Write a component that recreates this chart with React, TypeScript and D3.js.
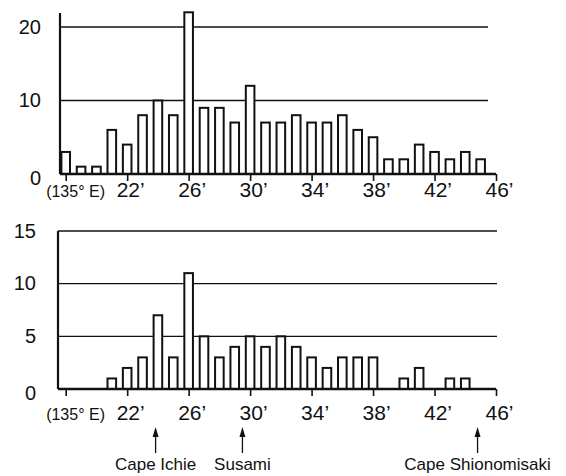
import { useRef, useEffect } from "react";
import * as d3 from "d3";

// longitude minutes east of 135°E, one bar per minute
const minutes = [
  18, 19, 20, 21, 22, 23, 24, 25, 26, 27, 28, 29, 30, 31, 32, 33, 34, 35, 36,
  37, 38, 39, 40, 41, 42, 43, 44, 45,
];
const topCounts = [
  3, 1, 1, 6, 4, 8, 10, 8, 22, 9, 9, 7, 12, 7, 7, 8, 7, 7, 8, 6, 5, 2, 2, 4, 3,
  2, 3, 2,
];
const bottomCounts = [
  0, 0, 0, 1, 2, 3, 7, 3, 11, 5, 3, 4, 5, 4, 5, 4, 3, 2, 3, 3, 3, 0, 1, 2, 0,
  1, 1, 0,
];
const xTicks = [18, 22, 26, 30, 34, 38, 42, 46];
const topYTicks = [0, 10, 20];
const bottomYTicks = [0, 5, 10, 15];
const placeNames = ["Cape Ichie", "Susami", "Cape Shionomisaki"];
const placeMinutes = [23.85, 29.5, 44.8];

const FONT = "'Liberation Sans', Arial, Helvetica, sans-serif";

const App = () => {
  const svgRef = useRef(null);

  useEffect(() => {
    const svg = d3.select(svgRef.current);
    svg.selectAll("*").remove();

    const x = d3.scaleLinear().domain([18, 46]).range([65.7, 496]);

    const drawPanel = (
      counts: number[],
      y: d3.ScaleLinear<number, number>,
      yTicks: number[],
      axisX: number,
      axisTop: number,
      gridEnd: number,
      labelRight: number,
      tickLabelGap: number,
    ) => {
      const g = svg.append("g");
      const y0 = y(0);

      // gridlines
      g.selectAll("line.grid")
        .data(yTicks.filter((t) => t > 0))
        .join("line")
        .attr("class", "grid")
        .attr("x1", axisX)
        .attr("x2", gridEnd)
        .attr("y1", (d) => y(d))
        .attr("y2", (d) => y(d))
        .attr("stroke", "#111")
        .attr("stroke-width", 1.3);

      // y tick labels
      g.selectAll("text.ylab")
        .data(yTicks)
        .join("text")
        .attr("class", "ylab")
        .attr("x", labelRight)
        .attr("y", (d) => y(d))
        .attr("dy", (d) => (d === 0 ? "0.55em" : "0.33em"))
        .attr("text-anchor", "end")
        .attr("font-family", FONT)
        .attr("font-size", 20)
        .attr("fill", "#111")
        .text((d) => d);

      // bars
      const rows = minutes
        .map((m, i) => ({ m, v: counts[i] }))
        .filter((d) => d.v > 0);
      g.selectAll("rect")
        .data(rows)
        .join("rect")
        .attr("x", (d) => x(d.m) - 4.3)
        .attr("y", (d) => y(d.v))
        .attr("width", 8.6)
        .attr("height", (d) => y0 - y(d.v))
        .attr("fill", "#fff")
        .attr("stroke", "#111")
        .attr("stroke-width", 2);

      // x axis ticks + labels
      const xAxis = g
        .append("g")
        .attr("transform", `translate(0,${y0})`)
        .call(
          d3
            .axisBottom(x)
            .tickValues(xTicks)
            .tickSize(7)
            .tickSizeOuter(0)
            .tickFormat((d) => (d === 18 ? "" : `${d}’`)),
        );
      xAxis.select(".domain").remove();
      xAxis.selectAll("line").attr("stroke", "#111").attr("stroke-width", 1.6);
      xAxis
        .selectAll("text")
        .attr("font-family", FONT)
        .attr("font-size", 21)
        .attr("fill", "#111")
        .attr("y", tickLabelGap)
        .attr("dy", "0")
        .attr("dx", 3);

      g.append("text")
        .attr("x", 105)
        .attr("y", y0 + tickLabelGap)
        .attr("text-anchor", "end")
        .attr("font-family", FONT)
        .attr("font-size", 16)
        .attr("fill", "#111")
        .text("(135° E)");

      // axis lines
      g.append("line")
        .attr("x1", axisX)
        .attr("x2", x(46))
        .attr("y1", y0)
        .attr("y2", y0)
        .attr("stroke", "#111")
        .attr("stroke-width", 2.6);
      g.append("line")
        .attr("x1", axisX)
        .attr("x2", axisX)
        .attr("y1", y0)
        .attr("y2", axisTop)
        .attr("stroke", "#111")
        .attr("stroke-width", 2.2);
    };

    const yTop = d3.scaleLinear().domain([0, 20]).range([174, 27]);
    drawPanel(topCounts, yTop, topYTicks, 60, 13, 488, 41, 23);

    const yBottom = d3.scaleLinear().domain([0, 15]).range([389, 231]);
    drawPanel(bottomCounts, yBottom, bottomYTicks, 58, 231, 497, 36, 31);

    // place annotations
    const notes = svg
      .append("g")
      .selectAll("g")
      .data(placeNames.map((name, i) => ({ name, m: placeMinutes[i] })))
      .join("g")
      .attr("transform", (d) => `translate(${x(d.m)},0)`);

    notes
      .append("line")
      .attr("y1", 453)
      .attr("y2", 434)
      .attr("stroke", "#111")
      .attr("stroke-width", 1.3);
    notes
      .append("path")
      .attr("d", "M0,427 L-3,437 L3,437 Z")
      .attr("fill", "#111");
    notes
      .append("text")
      .attr("y", 470)
      .attr("text-anchor", "middle")
      .attr("font-family", FONT)
      .attr("font-size", 17)
      .attr("fill", "#111")
      .text((d) => d.name);
  }, []);

  return (
    <svg
      ref={svgRef}
      width={566}
      height={476}
      style={{ position: "absolute", left: 0, top: 0, background: "#fff" }}
    ></svg>
  );
};

export default App;
